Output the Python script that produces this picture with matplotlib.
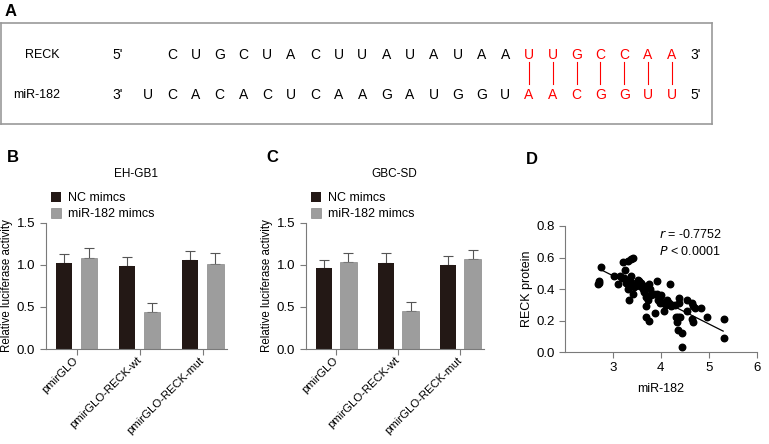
import numpy as np
import matplotlib
matplotlib.use('Agg')
import matplotlib.pyplot as plt

plt.rcParams['font.family'] = ['Liberation Sans', 'DejaVu Sans']
plt.rcParams['font.size'] = 8.5

# --- dados ---
reck_seq = "CUGCUACUUAUAUAAUUGCCAA"
mir_seq = "UCACACUCAAGAUGGUAACGGUU"
n_pares = 7

grupos = ["pmirGLO", "pmirGLO-RECK-wt", "pmirGLO-RECK-mut"]
series = ["NC mimcs", "miR-182 mimcs"]

b_nc = [1.02, 0.98, 1.06]
b_nc_err = [0.11, 0.11, 0.10]
b_mir = [1.08, 0.435, 1.015]
b_mir_err = [0.12, 0.11, 0.12]

c_nc = [0.96, 1.025, 1.00]
c_nc_err = [0.10, 0.11, 0.11]
c_mir = [1.03, 0.45, 1.07]
c_mir_err = [0.11, 0.11, 0.10]

mir182 = [2.69, 2.70, 2.71, 2.76, 3.20, 3.31, 3.41, 3.38, 3.25, 3.03, 3.10, 3.14,
          3.24, 3.35, 3.37, 3.31, 3.33, 3.42, 3.43, 3.38, 3.28, 3.52, 3.59, 3.62,
          3.56, 3.64, 3.69, 3.70, 3.69, 3.76, 3.76, 3.77, 3.73, 3.87, 3.91, 3.91,
          3.98, 4.01, 3.98, 4.05, 4.06, 4.12, 4.17, 4.20, 4.22, 4.24, 4.30, 4.31,
          4.34, 4.35, 4.36, 4.38, 4.38, 4.40, 4.44, 4.45, 4.54, 4.54, 4.64, 4.64,
          4.67, 4.67, 4.71, 4.83, 4.96, 5.31, 5.32, 3.48, 3.55, 3.65, 3.80, 3.85,
          3.95, 4.10, 3.18, 3.46]
reck_prot = [0.43, 0.44, 0.45, 0.54, 0.57, 0.58, 0.60, 0.59, 0.52, 0.48, 0.43, 0.48,
             0.47, 0.45, 0.48, 0.40, 0.33, 0.37, 0.41, 0.43, 0.44, 0.46, 0.44, 0.40,
             0.42, 0.38, 0.35, 0.29, 0.22, 0.20, 0.43, 0.40, 0.33, 0.25, 0.45, 0.37,
             0.35, 0.36, 0.31, 0.31, 0.26, 0.33, 0.31, 0.43, 0.29, 0.30, 0.30, 0.22,
             0.19, 0.14, 0.22, 0.34, 0.31, 0.22, 0.03, 0.12, 0.33, 0.26, 0.31, 0.21,
             0.19, 0.29, 0.28, 0.28, 0.22, 0.21, 0.09, 0.44, 0.45, 0.42, 0.36, 0.37,
             0.33, 0.30, 0.47, 0.42]

cor_escura = '#231815'
cor_cinza = '#9d9d9d'
cor_eixo = '#7a7a7a'

fig = plt.figure(figsize=(7.69, 4.44), dpi=100)

# --- Painel A: sequencias ---
axA = fig.add_axes([1 / 769, 1 - 124 / 444, 711 / 769, 101 / 444])
axA.set_xlim(1, 712)
axA.set_ylim(124, 23)
axA.set_xticks([])
axA.set_yticks([])
for s in axA.spines.values():
    s.set_color('#999999')
    s.set_linewidth(1.2)

x0, passo = 172, 23.8
y_reck, y_mir = 55, 95
fs_seq = 10
axA.text(60, y_reck, "RECK", ha='right', va='center', fontsize=9)
axA.text(60, y_mir, "miR-182", ha='right', va='center', fontsize=9)
axA.text(118, y_reck, "5'", ha='center', va='center', fontsize=fs_seq)
axA.text(118, y_mir, "3'", ha='center', va='center', fontsize=fs_seq)
for i, letra in enumerate(reck_seq):
    cor = 'red' if i >= len(reck_seq) - n_pares else 'black'
    axA.text(x0 + i * passo, y_reck, letra, ha='center', va='center', color=cor, fontsize=fs_seq)
for i, letra in enumerate(mir_seq):
    cor = 'red' if i >= len(mir_seq) - n_pares else 'black'
    axA.text(x0 + (i - 1) * passo, y_mir, letra, ha='center', va='center', color=cor, fontsize=fs_seq)
for k in range(n_pares):
    xk = x0 + (len(reck_seq) - n_pares + k) * passo
    axA.plot([xk, xk], [62, 84], color='red', lw=0.8)
axA.text(x0 + len(reck_seq) * passo, y_reck, "3'", ha='center', va='center', fontsize=fs_seq)
axA.text(x0 + (len(mir_seq) - 1) * passo, y_mir, "5'", ha='center', va='center', fontsize=fs_seq)

fig.text(5 / 769, 1 - 12 / 444, "A", fontsize=12, fontweight='bold', va='center')


def estilo_eixo(ax):
    for lado in ['top', 'right']:
        ax.spines[lado].set_visible(False)
    for lado in ['left', 'bottom']:
        ax.spines[lado].set_color(cor_eixo)
        ax.spines[lado].set_linewidth(0.8)
    ax.tick_params(direction='out', color=cor_eixo, length=4, width=0.8, labelsize=9.5)


def painel_barras(ax, nc, nc_err, mir, mir_err, titulo):
    x = np.arange(len(grupos))
    w = 0.26
    ax.bar(x - 0.2, nc, w, color=cor_escura, label=series[0], zorder=2)
    ax.bar(x + 0.2, mir, w, color=cor_cinza, edgecolor='#777777', linewidth=0.4,
           label=series[1], zorder=2)
    ax.errorbar(x - 0.2, nc, yerr=[np.zeros(3), nc_err], fmt='none', ecolor='#555555',
                elinewidth=0.8, capsize=3.5, capthick=0.8, zorder=1)
    ax.errorbar(x + 0.2, mir, yerr=[np.zeros(3), mir_err], fmt='none', ecolor='#555555',
                elinewidth=0.8, capsize=3.5, capthick=0.8, zorder=1)
    ax.set_xlim(-0.49, 2.38)
    ax.set_ylim(0, 1.5)
    ax.set_yticks([0, 0.5, 1.0, 1.5])
    ax.set_yticklabels(["0.0", "0.5", "1.0", "1.5"])
    ax.set_xticks(x)
    ax.set_xticklabels(grupos, rotation=45, ha='right', va='center',
                       rotation_mode='anchor')
    ax.set_ylabel("Relative luciferase activity", fontsize=8.3, labelpad=3)
    estilo_eixo(ax)
    # rótulos do eixo x menores para caberem na figura
    ax.tick_params(axis='x', pad=3, labelsize=8.2)
    ax.set_title(titulo, fontsize=8.5, pad=33)
    ax.legend(loc='lower left', bbox_to_anchor=(0.0, 0.98), frameon=False, fontsize=9,
              handlelength=0.8, handleheight=0.8, handletextpad=0.6, borderaxespad=0,
              labelspacing=0.3)


axB = fig.add_axes([45.7 / 769, 95 / 444, 181 / 769, 126.3 / 444])
painel_barras(axB, b_nc, b_nc_err, b_mir, b_mir_err, "EH-GB1")
fig.text(7 / 769, 1 - 158 / 444, "B", fontsize=12, fontweight='bold', va='center')

axC = fig.add_axes([305.7 / 769, 95 / 444, 178 / 769, 126.3 / 444])
painel_barras(axC, c_nc, c_nc_err, c_mir, c_mir_err, "GBC-SD")
fig.text(266 / 769, 1 - 158 / 444, "C", fontsize=12, fontweight='bold', va='center')

# --- Painel D: correlacao ---
axD = fig.add_axes([565 / 769, 92 / 444, 191.7 / 769, 126 / 444])
axD.scatter(mir182, reck_prot, s=22, color='black', zorder=3)
a, b = np.polyfit(mir182, reck_prot, 1)
xl = np.array([min(mir182) + 0.07, max(mir182) - 0.02])
axD.plot(xl, a * xl + b, color='black', lw=0.9)
axD.set_xlim(2, 6)
axD.set_ylim(0, 0.8)
axD.set_xticks([3, 4, 5, 6])
axD.set_yticks([0, 0.2, 0.4, 0.6, 0.8])
axD.set_yticklabels(["0.0", "0.2", "0.4", "0.6", "0.8"])
axD.set_xlabel("miR-182", fontsize=9, labelpad=6)
axD.set_ylabel("RECK protein", fontsize=9, labelpad=2)
estilo_eixo(axD)
axD.text(0.49, 0.93, "$r$ = -0.7752", transform=axD.transAxes, fontsize=9, va='center')
axD.text(0.49, 0.80, "$P$ < 0.0001", transform=axD.transAxes, fontsize=9, va='center')
fig.text(526 / 769, 1 - 160 / 444, "D", fontsize=12, fontweight='bold', va='center')

fig.savefig("out.png", dpi=100)
